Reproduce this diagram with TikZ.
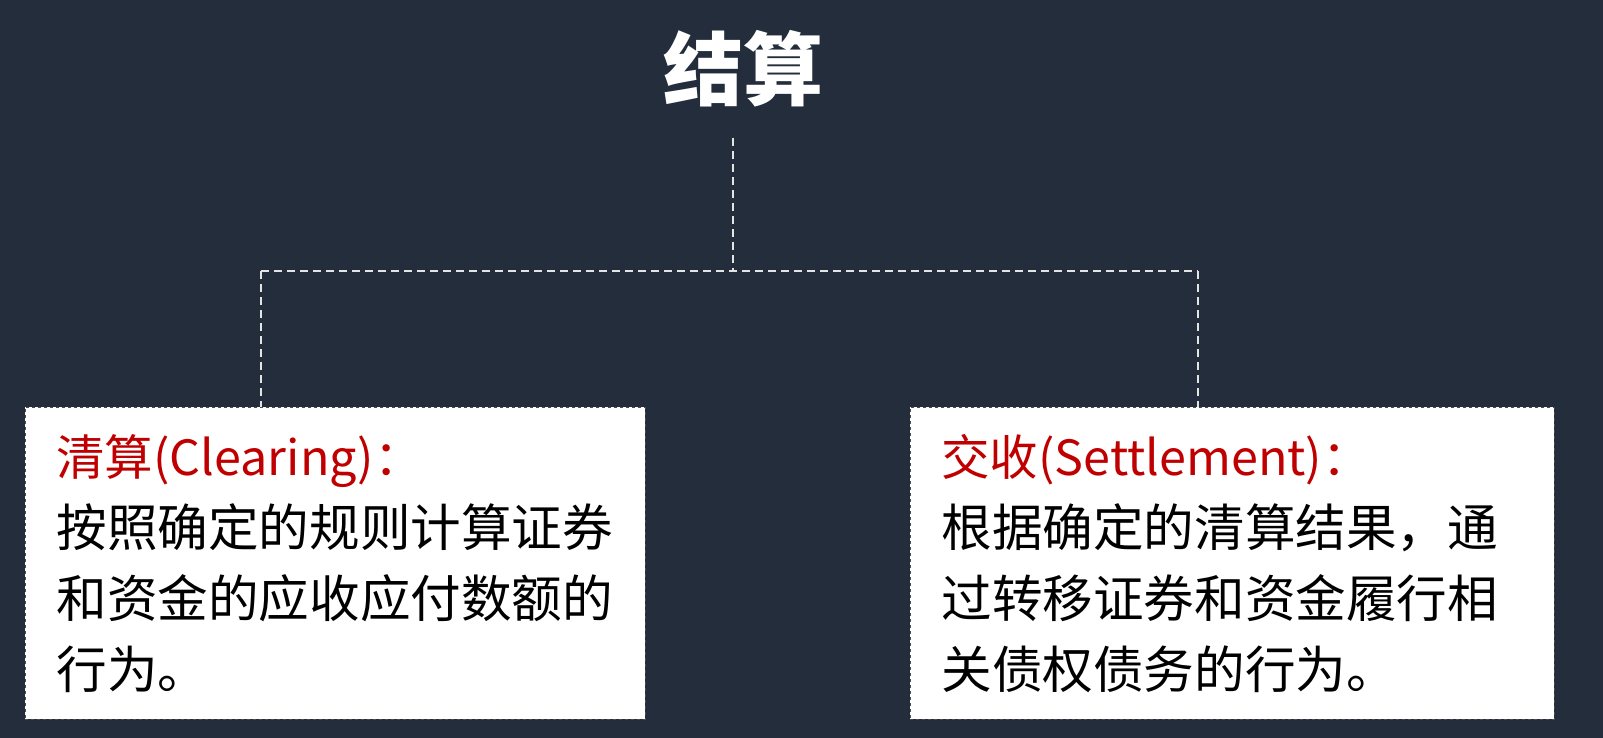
\documentclass[tikz,border=0pt]{standalone}
\usepackage{fontspec}
\setmainfont{Noto Sans CJK SC}
\usetikzlibrary{positioning}
\definecolor{slate}{RGB}{35,45,59}
\definecolor{termred}{RGB}{192,0,0}
\definecolor{linkgray}{RGB}{228,228,228}
\tikzset{
  link/.style={draw=linkgray, line width=1.8pt, dash pattern=on 8pt off 5pt},
  infobox/.style={draw=gray!60!black, dashed, line width=0.8pt, fill=white,
    anchor=north west, minimum width=#1, minimum height=312pt,
    text width=#1-62pt, inner xsep=31pt, align=left,
    font=\fontsize{50.6}{71}\selectfont},
  term/.style={text=termred, font=\fontsize{48}{72}\selectfont}
}
\begin{document}
\begin{tikzpicture}[x=1pt,y=-1pt]
\fill[slate] (0,0) rectangle (1603,738);
\useasboundingbox (0,0) rectangle (1603,738);
% heading
\node[text=white, font=\fontsize{80}{80}\selectfont\bfseries] (title) at (743,69) {结算};
% the two boxes
\node[infobox=620pt] (clearing) at (25,407) {{\color{termred}\fontsize{48.5}{71}\selectfont 清算(Clearing)：}\\
按照确定的规则计算证券\\和资金的应收应付数额的\\行为。};
\node[infobox=644pt] (settle) at (910,407) {{\color{termred}\fontsize{48.5}{71}\selectfont 交收(Settlement)：}\\
根据确定的清算结果，通\\过转移证券和资金履行相\\关债权债务的行为。};
% dashed tree
\coordinate (stem) at (733,138);
\coordinate (split) at (733,271);
\coordinate (lbranch) at (261,271);
\coordinate (rbranch) at (1198,271);
\draw[link] (stem) -- (split);
\draw[link] (lbranch) -- (rbranch);
\draw[link] (lbranch) -- (lbranch |- clearing.north);
\draw[link] (rbranch) -- (rbranch |- settle.north);
\end{tikzpicture}
\end{document}
